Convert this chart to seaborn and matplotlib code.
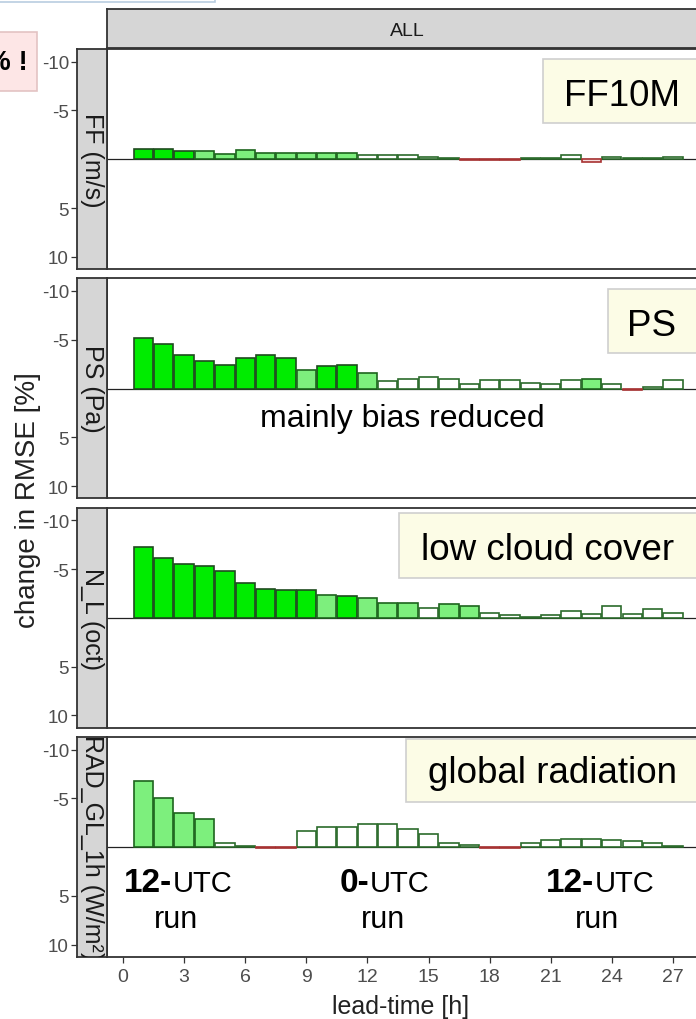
import numpy as np
import pandas as pd
import matplotlib
matplotlib.use("Agg")
import matplotlib.pyplot as plt
from matplotlib.patches import Rectangle
from matplotlib.colors import to_hex
import seaborn as sns

# ---------------- data ----------------
lead = list(range(1, 28))

panel_labels = ["FF (m/s)", "PS (Pa)", "N_L (oct)", "RAD_GL_1h (W/m²)"]

ff_vals = [-1.0, -1.0, -0.8, -0.8, -0.55, -0.9, -0.6, -0.6, -0.6, -0.6, -0.6, -0.4, -0.4, -0.4,
           -0.25, -0.1, 0.1, 0.1, 0.1, -0.1, -0.1, -0.45, 0.3, -0.25, -0.1, -0.1, -0.25]
ff_cls = ["sig", "sig", "sig", "weak", "weak", "weak", "weak", "weak", "weak", "weak", "weak",
          "none", "none", "none", "none", "none", "worse", "worse", "worse", "none", "none",
          "none", "worse", "none", "none", "none", "none"]

ps_vals = [-5.2, -4.6, -3.4, -2.8, -2.45, -3.1, -3.4, -3.1, -1.95, -2.3, -2.45, -1.6, -0.75, -0.95,
           -1.15, -0.95, -0.45, -0.85, -0.85, -0.6, -0.45, -0.85, -1.0, -0.45, 0.2, -0.15, -0.85]
ps_cls = ["sig"] * 8 + ["weak", "sig", "sig", "weak"] + ["none"] * 10 + \
         ["weak", "none", "worse", "none", "none"]

nl_vals = [-7.3, -6.1, -5.5, -5.3, -4.85, -3.55, -3.0, -2.9, -2.9, -2.35, -2.2, -2.0, -1.5, -1.5,
           -1.0, -1.45, -1.2, -0.5, -0.27, -0.1, -0.25, -0.75, -0.4, -1.2, -0.4, -0.9, -0.5]
nl_cls = ["sig"] * 9 + ["weak", "sig", "weak", "weak", "weak", "none", "weak", "weak"] + \
         ["none"] * 10

rad_vals = [-6.8, -5.0, -3.5, -2.9, -0.4, -0.1, 0.1, 0.1, -1.7, -2.1, -2.1, -2.4, -2.4, -1.9,
            -1.3, -0.45, -0.25, 0.1, 0.1, -0.45, -0.7, -0.85, -0.85, -0.7, -0.6, -0.45, -0.15]
rad_cls = ["weak"] * 4 + ["none", "none", "worse", "worse"] + ["none"] * 9 + \
          ["worse", "worse"] + ["none"] * 8

panel_vals = [ff_vals, ps_vals, nl_vals, rad_vals]
panel_cls = [ff_cls, ps_cls, nl_cls, rad_cls]

y_ticks = [-10, -5, 5, 10]
x_ticks = list(range(0, 28, 3))

box_texts = ["FF10M", "PS", "low cloud cover", "global radiation"]

# ---------------- style ----------------
sns.set_style("white")
plt.rcParams["font.family"] = ["Liberation Sans", "DejaVu Sans"]

classes = ["sig", "weak", "none", "worse"]
fill = {"sig": "#00ec00", "weak": "#7def7d", "none": "#ffffff", "worse": "#f5dede"}
edge = {"sig": "#1f4a1f", "weak": "#1d641d", "none": "#2b6b2b", "worse": "#a83232"}

W, H = 696, 1020
fig = plt.figure(figsize=(W / 100, H / 100), dpi=100)
fig.patch.set_facecolor("white")


def fr(x0, y0, x1, y1):
    return [x0 / W, 1 - y1 / H, (x1 - x0) / W, (y1 - y0) / H]


SPINE = "#333333"
STRIP = "#d6d6d6"

panel_top0, panel_step, panel_h = 50, 229.3, 220
axes = []
for i in range(4):
    top = panel_top0 + i * panel_step
    ax = fig.add_axes(fr(107, top, 700, top + panel_h))
    sax = fig.add_axes(fr(77, top, 107, top + panel_h), sharey=ax)

    df = pd.DataFrame({"lead": lead, "value": panel_vals[i], "cls": panel_cls[i]})
    ax.axhline(0, color="#222222", lw=0.9, zorder=0.5)
    sns.barplot(data=df, x="lead", y="value", hue="cls", hue_order=classes,
                palette=fill, saturation=1, native_scale=True, dodge=False, width=0.95,
                linewidth=1.2, edgecolor="#1f4a1f", errorbar=None, legend=False,
                ax=ax, zorder=2)
    lookup = {to_hex(fill[c]): c for c in classes}
    for p in ax.patches:
        c = lookup.get(to_hex(p.get_facecolor()))
        if c is not None:
            p.set_edgecolor(edge[c])

    ax.set_xlim(-0.785, 28.33)
    ax.set_ylim(11.25, -11.3)
    ax.set_xlabel("")
    ax.set_ylabel("")
    ax.set_facecolor("white")
    for s in ax.spines.values():
        s.set_color(SPINE)
        s.set_linewidth(1.3)
    ax.tick_params(axis="y", left=False, labelleft=False)

    sax.set_facecolor(STRIP)
    for s in sax.spines.values():
        s.set_color(SPINE)
        s.set_linewidth(1.3)
    sax.set_yticks(y_ticks)
    sax.set_yticklabels([str(v) for v in y_ticks])
    sax.tick_params(axis="y", left=True, length=4.3, width=0.9, color=SPINE,
                    labelcolor="#4d4d4d", labelsize=13.5, pad=1.5)
    sax.set_xticks([])
    sax.text(0.5, 0.5, panel_labels[i], rotation=270, transform=sax.transAxes,
             ha="center", va="center", fontsize=18, color="#1a1a1a", clip_on=True)

    if i == 3:
        ax.set_xticks(x_ticks)
        ax.set_xticklabels([str(v) for v in x_ticks])
        ax.tick_params(axis="x", bottom=True, length=4.3, width=0.9, color=SPINE,
                       labelcolor="#4d4d4d", labelsize=14, pad=3.5)
    else:
        ax.tick_params(axis="x", bottom=False, labelbottom=False)
    axes.append(ax)

# top strip
tax = fig.add_axes(fr(107, 10, 700, 49))
tax.set_facecolor(STRIP)
tax.set_xticks([])
tax.set_yticks([])
for s in tax.spines.values():
    s.set_color(SPINE)
    s.set_linewidth(1.3)
fig.text(407 / W, 1 - 31 / H, "ALL", ha="center", va="center", fontsize=14, color="#1a1a1a")

# axis titles
fig.text(28 / W, 1 - 500 / H, "change in RMSE [%]", rotation=90, ha="center", va="center",
         fontsize=20, color="#222222")
fig.text(401 / W, 1 - 1014 / H, "lead-time [h]", ha="center", va="baseline",
         fontsize=18, color="#222222")

# annotation boxes
box_rects = [(543, 60, 705, 124), (608, 290, 705, 354), (399, 514, 705, 579), (406, 740, 705, 803)]
box_txt_pos = [(622, 106), (652, 336), (548, 560), (552, 783)]
for (x0, y0, x1, y1), (tx, ty), t in zip(box_rects, box_txt_pos, box_texts):
    fig.add_artist(Rectangle((x0 / W, 1 - y1 / H), (x1 - x0) / W, (y1 - y0) / H,
                             transform=fig.transFigure, facecolor="#fcfce6",
                             edgecolor="#cfcfcf", lw=1.2, zorder=5))
    fig.text(tx / W, 1 - ty / H, t, ha="center", va="baseline", fontsize=26.5,
             color="black", zorder=6)

fig.text(402 / W, 1 - 427 / H, "mainly bias reduced", ha="center", va="baseline",
         fontsize=23, color="black", zorder=6)

# run labels
for split, bold, run_x in [(172, "12-", 176), (369, "0-", 383), (594, "12-", 597)]:
    fig.text(split / W, 1 - 892 / H, bold, ha="right", va="baseline", fontsize=24,
             fontweight="bold", color="black", zorder=6)
    fig.text((split + 1) / W, 1 - 892 / H, "UTC", ha="left", va="baseline", fontsize=21,
             color="black", zorder=6)
    fig.text(run_x / W, 1 - 928 / H, "run", ha="center", va="baseline", fontsize=22,
             color="black", zorder=6)

# cropped boxes at the top-left
fig.add_artist(Rectangle((-5 / W, 1 - 3 / H), 220 / W, 30 / H, transform=fig.transFigure,
                         facecolor="white", edgecolor="#b9cde0", lw=1.2, zorder=5))
fig.add_artist(Rectangle((-5 / W, 1 - 92 / H), 42 / W, 59 / H, transform=fig.transFigure,
                         facecolor="#fde6e6", edgecolor="#e3c3c3", lw=1.2, zorder=5))
fig.text(28 / W, 1 - 63 / H, "% !", ha="right", va="center", fontsize=20,
         fontweight="bold", color="black", zorder=6)

fig.savefig("out.png", dpi=100)
